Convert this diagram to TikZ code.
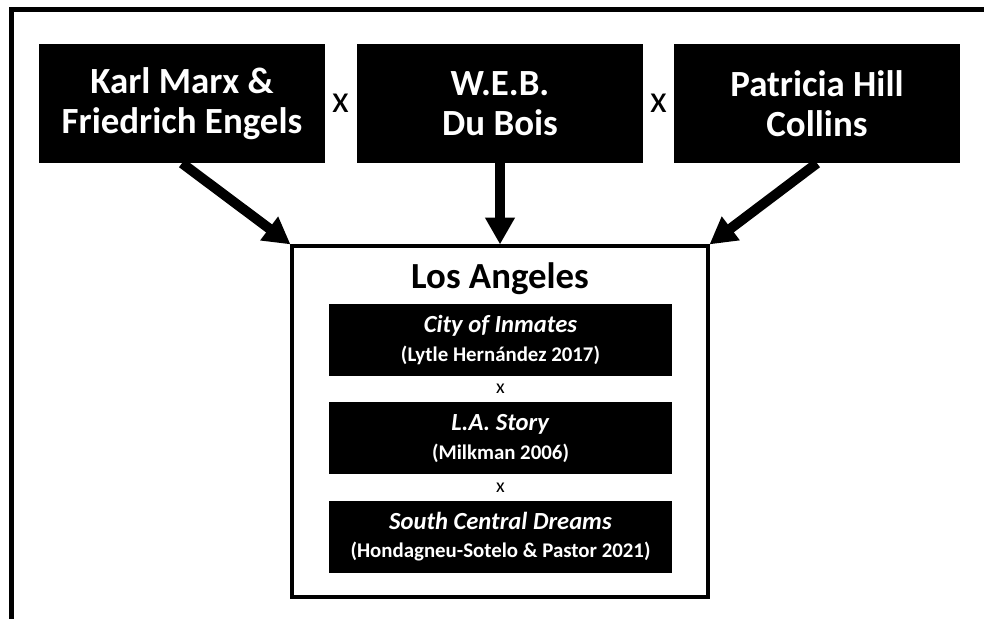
\documentclass[tikz,border=0pt]{standalone}
\usepackage{fontspec}
\setmainfont{Carlito}
\usetikzlibrary{arrows.meta, positioning, calc}

\begin{document}
\begin{tikzpicture}[
    x=0.03cm, y=-0.03cm,
    thinker/.style={fill=black, text=white, align=center, inner sep=0pt,
                    minimum width=8.58cm, minimum height=3.57cm,
                    font=\fontsize{31.5}{34}\selectfont\bfseries},
    city/.style  ={draw, line width=0.12cm, inner sep=0pt,
                    minimum width=12.45cm, minimum height=10.52cm},
    work/.style  ={fill=black, text=white, align=center, inner sep=0pt,
                    minimum width=10.29cm, minimum height=2.16cm,
                    font=\fontsize{17.8}{24}\selectfont\bfseries},
    cross/.style ={font=\fontsize{33}{34}\selectfont},
    minicross/.style={font=\fontsize{17}{18}\selectfont},
    feed/.style  ={-{Triangle[length=0.8cm, width=0.84cm]}, line width=0.3cm},
]
\useasboundingbox (0,0) rectangle (984,619);
% outer frame, only its top and left sides show
\draw[line width=0.15cm] (984,9.5) -- (11.5,9.5) -- (11.5,619);

\node[thinker] (marx)    at (182,103.5) {Karl Marx \&\\Friedrich Engels};
\node[thinker] (dubois)  at (500,103.5) {W.E.B.\\Du Bois};
\node[thinker] (collins) at (817,103.5) {Patricia Hill\\Collins};
\node[cross] (x1) at ($(marx.east)!0.5!(dubois.west)$) {x};
\node[cross] (x2) at ($(dubois.east)!0.5!(collins.west)$) {x};

\node[city] (la) at (500,421.75) {};
\node[font=\fontsize{31.4}{32}\selectfont\bfseries] (title) at (500,279) {Los Angeles};
\node[work] (inmates) at (500.5,340) {\textit{\fontsize{21}{24}\selectfont City of Inmates}\\(Lytle Hernández 2017)};
\node[work, below=0.78cm of inmates] (story) {\textit{\fontsize{21}{24}\selectfont L.A. Story}\\(Milkman 2006)};
\node[work, below=0.78cm of story] (dreams) {\textit{\fontsize{21}{24}\selectfont South Central Dreams}\\(Hondagneu-Sotelo \& Pastor 2021)};
\node[minicross] (y1) at ($(inmates.south)!0.5!(story.north)$) {x};
\node[minicross] (y2) at ($(story.south)!0.5!(dreams.north)$) {x};

% the three thinkers feed the city
\draw[feed] (marx.south) -- (la.north west);
\draw[feed] (dubois.south) -- (la.north);
\draw[feed] (collins.south) -- (la.north east);
\end{tikzpicture}
\end{document}
